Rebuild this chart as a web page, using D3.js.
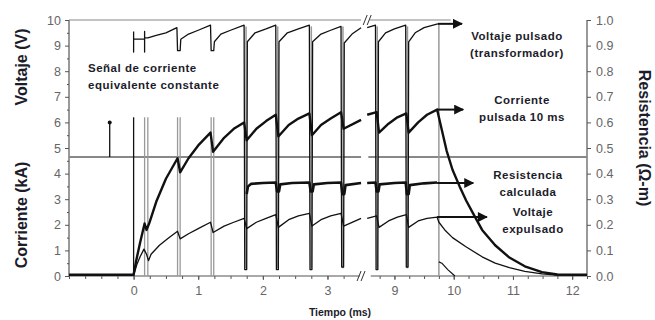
<!DOCTYPE html>
<html>
<head>
<meta charset="utf-8">
<script src="https://cdn.jsdelivr.net/npm/d3@7"></script>
<style>
  body { margin: 0; background: #fff; }
  svg { font-family: "Liberation Sans", Arial, sans-serif; display: block; }
  .tick text { fill: #666; font-size: 12.5px; }
  .tick line { stroke: #555; }
</style>
</head>
<body>
<div id="chart"></div>
<script>
// tick labels
const xTicksA = [0, 1, 2, 3];
const xTicksB = [9, 10, 11, 12];
const leftTicks = [0, 1, 2, 3, 4, 5, 6, 7, 8, 9, 10];
const rightTicks = [0, 0.1, 0.2, 0.3, 0.4, 0.5, 0.6, 0.7, 0.8, 0.9, 1.0];

// voltaje pulsado (transformador), V  [t ms, V]
const voltPulsadoA = [[0.0, 9.55], [0.0, 8.75], [0.0, 9.25], [0.17, 9.25], [0.17, 9.55], [0.17, 8.75], [0.17, 9.3],
  [0.22, 9.3], [0.35, 9.4], [0.5, 9.5], [0.67, 9.7], [0.68, 8.8], [0.72, 8.8], [0.73, 9.25], [0.85, 9.45],
  [1.0, 9.6], [1.19, 9.8], [1.2, 8.8], [1.24, 8.8], [1.25, 9.15], [1.35, 9.45], [1.5, 9.6], [1.71, 9.8],
  [1.72, 0.25], [1.75, 0.25], [1.76, 9.15], [1.88, 9.5], [2.05, 9.65], [2.2, 9.8], [2.21, 0.25], [2.24, 0.25],
  [2.25, 9.15], [2.38, 9.5], [2.55, 9.65], [2.72, 9.8], [2.73, 0.25], [2.76, 0.25], [2.77, 9.15], [2.9, 9.45],
  [3.05, 9.6], [3.21, 9.75], [3.22, 0.35], [3.25, 0.35], [3.26, 9.1], [3.38, 9.45], [3.52, 9.7]];
const voltPulsadoB = [[8.54, 9.7], [8.68, 9.8], [8.69, 0.25], [8.72, 0.25], [8.73, 9.15], [8.85, 9.5], [9.0, 9.65],
  [9.19, 9.8], [9.2, 0.35], [9.23, 0.35], [9.24, 9.15], [9.35, 9.5], [9.5, 9.7], [9.73, 9.85]];
const voltCola = [[9.75, 0.55], [9.8, 0.5], [9.9, 0.25], [10.02, 0.0]];

// corriente pulsada 10 ms, kA
const corrienteA = [[-1, 0.05], [0, 0.05], [0.04, 0.6], [0.1, 1.3], [0.17, 2.05], [0.2, 1.8], [0.24, 2.05],
  [0.35, 2.9], [0.5, 3.8], [0.68, 4.6], [0.72, 4.05], [0.85, 4.6], [1.0, 5.1], [1.19, 5.6], [1.23, 4.85],
  [1.4, 5.4], [1.55, 5.75], [1.71, 6.0], [1.75, 5.3], [1.9, 5.75], [2.05, 6.05], [2.2, 6.3], [2.24, 5.45],
  [2.4, 5.9], [2.55, 6.15], [2.72, 6.35], [2.76, 5.5], [2.9, 5.9], [3.05, 6.15], [3.21, 6.4], [3.25, 5.75],
  [3.52, 6.1]];
const corrienteB = [[8.54, 6.3], [8.7, 6.4], [8.74, 5.6], [8.9, 5.95], [9.05, 6.2], [9.2, 6.35], [9.24, 5.6],
  [9.4, 6.0], [9.55, 6.3], [9.72, 6.5], [9.8, 5.7], [9.88, 4.9], [9.98, 4.15], [10.1, 3.5], [10.21, 2.95],
  [10.35, 2.35], [10.48, 1.8], [10.7, 1.2], [10.94, 0.72], [11.2, 0.38], [11.49, 0.15], [11.75, 0.06], [12.25, 0.05]];

// voltaje expulsado
const voltExpA = [[0, 0.03], [0.05, 0.45], [0.1, 0.75], [0.16, 1.05], [0.2, 0.85], [0.23, 0.6], [0.27, 0.85],
  [0.4, 1.2], [0.55, 1.5], [0.68, 1.75], [0.72, 1.45], [0.85, 1.65], [1.0, 1.85], [1.19, 2.1], [1.23, 1.7],
  [1.4, 1.95], [1.55, 2.1], [1.71, 2.25], [1.75, 1.85], [1.9, 2.1], [2.05, 2.25], [2.2, 2.4], [2.24, 1.9],
  [2.4, 2.2], [2.55, 2.35], [2.72, 2.45], [2.76, 1.95], [2.9, 2.2], [3.05, 2.35], [3.21, 2.45], [3.25, 1.95],
  [3.52, 2.25]];
const voltExpB = [[8.54, 2.25], [8.7, 2.35], [8.74, 1.9], [8.9, 2.15], [9.05, 2.3], [9.2, 2.4], [9.24, 1.9],
  [9.4, 2.15], [9.55, 2.25], [9.72, 2.3], [9.75, 2.1], [9.85, 1.8], [9.98, 1.5], [10.2, 1.15], [10.48, 0.75],
  [10.7, 0.5], [10.94, 0.33], [11.2, 0.18], [11.49, 0.08], [11.7, 0.04], [12.25, 0.03]];

// resistencia calculada, ohm-m
const resistA = [[1.75, 0.32], [1.77, 0.35], [1.82, 0.36], [2.0, 0.363], [2.2, 0.365], [2.22, 0.33], [2.25, 0.33],
  [2.27, 0.358], [2.45, 0.363], [2.72, 0.365], [2.74, 0.33], [2.77, 0.33], [2.79, 0.358], [3.0, 0.363],
  [3.21, 0.365], [3.23, 0.32], [3.26, 0.32], [3.28, 0.355], [3.52, 0.363]];
const resistB = [[8.54, 0.363], [8.68, 0.365], [8.7, 0.33], [8.73, 0.33], [8.75, 0.358], [9.0, 0.363],
  [9.19, 0.365], [9.21, 0.32], [9.24, 0.32], [9.26, 0.355], [9.5, 0.362], [9.72, 0.365]];

// señal de corriente equivalente constante
const senalTimes = [0.17, 0.22, 0.68, 0.72, 1.2, 1.24];
const senalLevel = 6.2;
const pulseTimes = [1.74, 2.23, 2.75, 3.24, 8.71, 9.22];
const pulseEnd = 9.75;
const divider = 4.65;

let canvas = { width: 655, height: 320, left: 69, right: 587, top: 20, bottom: 276 };

const svg = d3.select("#chart").append("svg")
  .attr("width", canvas.width)
  .attr("height", canvas.height);

const x = d3.scaleLinear()
  .domain([-1, 3.55, 8.52, 12.25])
  .range([canvas.left, 363, 366, canvas.right]);
const y = d3.scaleLinear().domain([0, 10]).range([canvas.bottom, canvas.top]);
const yR = d3.scaleLinear().domain([0, 1]).range([canvas.bottom, canvas.top]);

const line = d3.line().x(d => x(d[0])).y(d => y(d[1]));
const lineR = d3.line().x(d => x(d[0])).y(d => yR(d[1]));

svg.append("defs").append("marker")
  .attr("id", "head")
  .attr("viewBox", "0 0 10 10")
  .attr("refX", 9).attr("refY", 5)
  .attr("markerUnits", "userSpaceOnUse")
  .attr("markerWidth", 12).attr("markerHeight", 10)
  .attr("orient", "auto")
  .append("path").attr("d", "M0,0L10,5L0,10Z").attr("fill", "#111");

// frame
const frame = svg.append("g").attr("stroke", "#555").attr("stroke-width", 1.2);
frame.append("line").attr("x1", canvas.left).attr("x2", canvas.left).attr("y1", canvas.top).attr("y2", canvas.bottom);
frame.append("line").attr("x1", canvas.right).attr("x2", canvas.right).attr("y1", canvas.top).attr("y2", canvas.bottom);
frame.append("line").attr("x1", canvas.left).attr("x2", x(3.5)).attr("y1", canvas.bottom).attr("y2", canvas.bottom);
frame.append("line").attr("x1", x(8.6)).attr("x2", canvas.right).attr("y1", canvas.bottom).attr("y2", canvas.bottom);
frame.append("line").attr("x1", canvas.left).attr("x2", x(3.52)).attr("y1", canvas.top).attr("y2", canvas.top).attr("stroke", "#888");
frame.append("line").attr("x1", x(8.58)).attr("x2", x(9.95)).attr("y1", canvas.top).attr("y2", canvas.top).attr("stroke", "#888");

// break marks
[[x(3.52), canvas.bottom], [x(8.54), canvas.top]].forEach(p => {
  [-2, 2].forEach(o => {
    svg.append("line")
      .attr("x1", p[0] + o - 2).attr("y1", p[1] + 5)
      .attr("x2", p[0] + o + 2).attr("y2", p[1] - 5)
      .attr("stroke", "#333").attr("stroke-width", 1);
  });
});

// divider
[[-1, 3.52], [8.56, 12.25]].forEach(s => {
  svg.append("line")
    .attr("x1", x(s[0])).attr("x2", x(s[1]))
    .attr("y1", y(divider)).attr("y2", y(divider))
    .attr("stroke", "#888").attr("stroke-width", 2);
});

// axes
const gl = svg.append("g").attr("transform", `translate(${canvas.left},0)`)
  .call(d3.axisLeft(y).tickValues(leftTicks).tickSize(4).tickPadding(4));
gl.select(".domain").remove();
const glm = svg.append("g").attr("transform", `translate(${canvas.left},0)`)
  .call(d3.axisLeft(y).tickValues(d3.range(0.5, 10, 1)).tickSize(2).tickFormat(""));
glm.select(".domain").remove();

const gr = svg.append("g").attr("transform", `translate(${canvas.right},0)`)
  .call(d3.axisRight(yR).tickValues(rightTicks).tickFormat(d3.format(".1f")).tickSize(4).tickPadding(5));
gr.select(".domain").remove();

[xTicksA, xTicksB].forEach(tv => {
  const gb = svg.append("g").attr("transform", `translate(0,${canvas.bottom})`)
    .call(d3.axisBottom(x).tickValues(tv).tickSize(4).tickPadding(6));
  gb.select(".domain").remove();
});
const minorX = d3.range(-1, 3.5, 0.25).concat(d3.range(8.75, 12.26, 0.25));
const gbm = svg.append("g").attr("transform", `translate(0,${canvas.bottom})`)
  .call(d3.axisBottom(x).tickValues(minorX).tickSize(3).tickFormat(""));
gbm.select(".domain").remove();

// señal lines
svg.append("g").attr("stroke", "#999").attr("stroke-width", 1.3)
  .selectAll("line").data(senalTimes).join("line")
  .attr("x1", d => x(d)).attr("x2", d => x(d))
  .attr("y1", y(senalLevel)).attr("y2", y(0));
svg.append("line").attr("stroke", "#111").attr("stroke-width", 1.3)
  .attr("x1", x(0)).attr("x2", x(0)).attr("y1", y(senalLevel)).attr("y2", y(0));

// pulse gaps (gray)
svg.append("g").attr("stroke", "#999").attr("stroke-width", 1.5)
  .selectAll("line").data(pulseTimes).join("line")
  .attr("x1", d => x(d)).attr("x2", d => x(d))
  .attr("y1", y(9.75)).attr("y2", y(0.3));
svg.append("line").attr("stroke", "#999").attr("stroke-width", 1.5)
  .attr("x1", x(pulseEnd)).attr("x2", x(pulseEnd)).attr("y1", y(9.85)).attr("y2", y(0));

// traces
const traces = [
  { data: voltPulsadoA, w: 1.3, sc: line },
  { data: voltPulsadoB, w: 1.3, sc: line },
  { data: voltCola, w: 1.2, sc: line },
  { data: voltExpA, w: 1.3, sc: line },
  { data: voltExpB, w: 1.3, sc: line },
  { data: corrienteA, w: 2.4, sc: line },
  { data: corrienteB, w: 2.4, sc: line },
  { data: resistA, w: 2.6, sc: lineR },
  { data: resistB, w: 2.6, sc: lineR },
];
svg.append("g").attr("fill", "none").attr("stroke", "#111").attr("stroke-linejoin", "round")
  .selectAll("path").data(traces).join("path")
  .attr("stroke-width", d => d.w)
  .attr("d", d => d.sc(d.data));

// arrows to labels
const arrowsLeft = [[9.73, 9.85, 10.14], [9.72, 6.5, 10.16], [9.72, 2.3, 10.56]];
svg.append("g").attr("stroke", "#111").attr("stroke-width", 2)
  .selectAll("line").data(arrowsLeft).join("line")
  .attr("x1", d => x(d[0])).attr("y1", d => y(d[1]))
  .attr("x2", d => x(d[2])).attr("y2", d => y(d[1]))
  .attr("marker-end", "url(#head)");
svg.append("line").attr("stroke", "#111").attr("stroke-width", 2)
  .attr("x1", x(9.72)).attr("y1", yR(0.363))
  .attr("x2", x(10.33)).attr("y2", yR(0.363))
  .attr("marker-end", "url(#head)");

// señal marker
svg.append("line").attr("stroke", "#111").attr("stroke-width", 1.3)
  .attr("x1", x(-0.37)).attr("x2", x(-0.37)).attr("y1", y(divider)).attr("y2", y(6.0));
svg.append("circle").attr("cx", x(-0.37)).attr("cy", y(6.0)).attr("r", 2).attr("fill", "#111");

// annotation text
const notes = svg.append("g")
  .attr("font-weight", "bold").attr("font-size", "11.5px").attr("letter-spacing", "0.5px").attr("fill", "#1c1c2a");
const addNote = (lines, px, py, anchor) => {
  lines.forEach((t, i) => {
    notes.append("text").attr("x", px).attr("y", py + i * 17).attr("text-anchor", anchor).text(t);
  });
};
addNote(["Señal de corriente", "equivalente constante"], 88, 72, "start");
addNote(["Voltaje pulsado", "(transformador)"], 517, 40, "middle");
addNote(["Corriente", "pulsada 10 ms"], 522, 104, "middle");
addNote(["Resistencia", "calculada"], 528, 179, "middle");
addNote(["Voltaje", "expulsado"], 533, 216, "middle");

// axis titles
const titles = svg.append("g").attr("font-weight", "bold").attr("fill", "#1c1c2a").attr("text-anchor", "middle");
titles.append("text").attr("transform", "translate(27,67) rotate(-90)").attr("font-size", "16px").text("Voltaje (V)");
titles.append("text").attr("transform", "translate(27,215) rotate(-90)").attr("font-size", "16px").text("Corriente (kA)");
titles.append("text").attr("transform", "translate(639,138) rotate(90)").attr("font-size", "16px").text("Resistencia (Ω-m)");
titles.append("text").attr("x", 340).attr("y", 316).attr("font-size", "10.5px").text("Tiempo (ms)");
</script>
</body>
</html>
